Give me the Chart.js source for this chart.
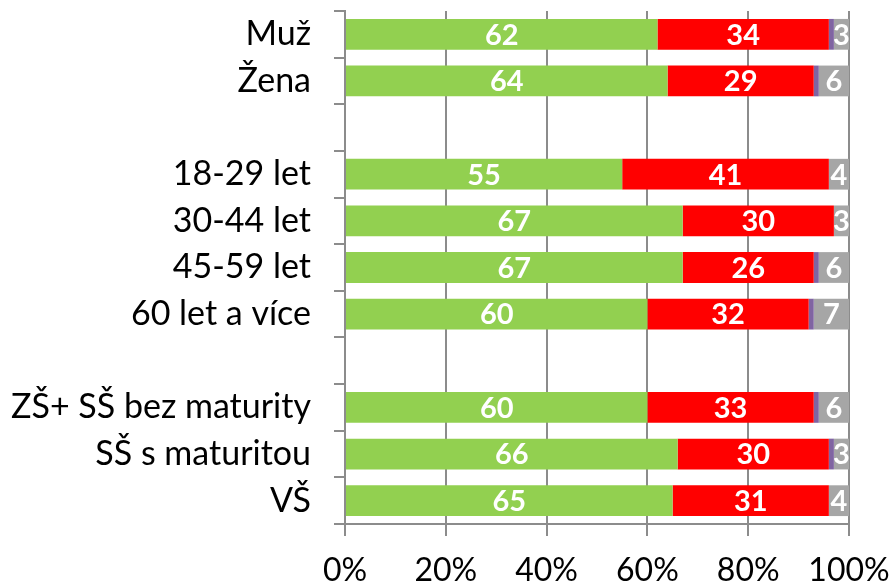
<!DOCTYPE html>
<html>
<head>
<meta charset="utf-8">
<script src="https://cdn.jsdelivr.net/npm/chart.js@4/dist/chart.umd.min.js"></script>
<style>
  html, body { margin: 0; padding: 0; background: #fff; }
  #wrap { width: 893px; height: 585px; }
</style>
</head>
<body>
<div id="wrap"><canvas id="chart"></canvas></div>
<script>
// kategorie (prázdné řádky = mezery mezi skupinami)
const categories = ['Muž', 'Žena', '', '18-29 let', '30-44 let', '45-59 let', '60 let a více', '', 'ZŠ+ SŠ bez maturity', 'SŠ s maturitou', 'VŠ'];

const greenValues  = [62, 64, null, 55, 67, 67, 60, null, 60, 66, 65];
const redValues    = [34, 29, null, 41, 30, 26, 32, null, 33, 30, 31];
const purpleValues = [1, 1, null, 0, 0, 1, 1, null, 1, 1, 0];
const grayValues   = [3, 6, null, 4, 3, 6, 7, null, 6, 3, 4];

const xTicks = [0, 20, 40, 60, 80, 100];

const gridColor = '#8c8c8c';

// popisky hodnot uvnitř sloupců (bílé, tučné)
const valueLabels = {
  id: 'valueLabels',
  afterDatasetsDraw(chart) {
    const ctx = chart.ctx;
    ctx.save();
    ctx.fillStyle = '#ffffff';
    ctx.font = 'bold 29px Lato';
    ctx.textAlign = 'center';
    ctx.textBaseline = 'middle';
    chart.data.datasets.forEach((ds, i) => {
      if (ds.hideLabels) return;
      chart.getDatasetMeta(i).data.forEach((bar, j) => {
        const v = ds.data[j];
        if (v === null || v === 0) return;
        const p = bar.getCenterPoint();
        ctx.fillText(String(v), p.x, p.y + 1);
      });
    });
    ctx.restore();
  }
};

const ctx = document.getElementById('chart').getContext('2d');
new Chart(ctx, {
  type: 'bar',
  data: {
    labels: categories,
    datasets: [
      { data: greenValues, backgroundColor: '#92D050' },
      { data: redValues, backgroundColor: '#FF0000' },
      { data: purpleValues, backgroundColor: '#8064A2', hideLabels: true },
      { data: grayValues, backgroundColor: '#A6A6A6' }
    ]
  },
  options: {
    indexAxis: 'y',
    responsive: true,
    maintainAspectRatio: false,
    animation: false,
    barPercentage: 0.66,
    categoryPercentage: 1,
    layout: { padding: { top: 11, right: 44, left: 0, bottom: 0 } },
    plugins: {
      legend: { display: false },
      tooltip: { enabled: false }
    },
    scales: {
      x: {
        stacked: true,
        min: 0,
        max: 100,
        afterBuildTicks: (scale) => { scale.ticks = xTicks.map(v => ({ value: v })); },
        afterFit: (scale) => {
          scale.height = 61;
          scale.paddingLeft = 0;
          scale.paddingRight = 0;
        },
        ticks: {
          color: '#000',
          font: { family: 'Lato', size: 32 },
          padding: 15,
          maxRotation: 0,
          callback: (v) => v + '%'
        },
        grid: { color: gridColor, lineWidth: 2, tickLength: 12 },
        border: { color: gridColor, width: 2 }
      },
      y: {
        stacked: true,
        afterFit: (scale) => {
          scale.width = 345;
          scale.paddingTop = 0;
          scale.paddingBottom = 0;
        },
        ticks: {
          color: '#000',
          font: { family: 'Lato', size: 34 },
          padding: 23
        },
        grid: { drawOnChartArea: false, color: gridColor, lineWidth: 2, tickLength: 11, offset: true },
        border: { color: gridColor, width: 2 }
      }
    }
  },
  plugins: [valueLabels]
});
</script>
</body>
</html>
